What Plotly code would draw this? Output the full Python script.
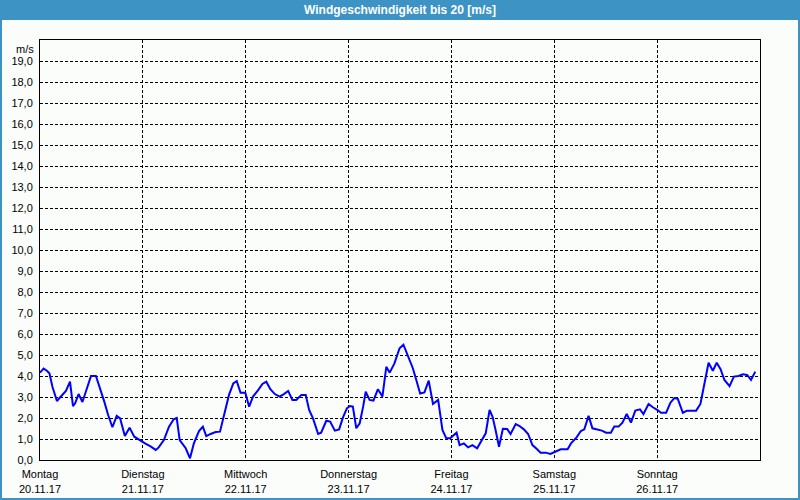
import pandas as pd
import plotly.graph_objects as go

# ---- data ----
start_date = "2017-11-20"
hours = [0, 0.84, 1.6, 2.2, 2.9, 3.95, 4.5, 6.05, 7.0, 7.7, 8.2, 9.0, 9.9, 10.7, 11.9, 13.05,
         14.1, 15.0, 15.9, 16.9, 17.9, 18.7, 19.8, 20.9, 22.0, 23.2,
         24.6, 25.8, 27.0, 27.7, 28.9, 30.1, 31.2, 31.9, 32.6, 34.0, 35.0, 35.9, 37.1, 38.0,
         38.8, 39.8, 41.0, 42.0, 42.9, 44.1, 45.1, 45.9, 46.8, 47.9,
         48.8, 49.7, 50.9, 51.9, 52.8, 53.75, 54.8, 55.9, 56.9, 57.9, 58.9, 59.8, 61.0, 62.0,
         62.8, 63.7, 64.9, 65.6, 66.8, 67.7, 68.8, 69.8, 70.7, 71.6,
         72.3, 73.0, 73.8, 74.6, 75.4, 76.0, 76.9, 77.8, 78.85, 79.9, 80.8, 81.6, 82.7, 83.9,
         84.8, 85.8, 87.0, 87.8, 88.7, 89.7, 90.7, 91.7, 92.9, 93.9, 94.8, 95.7,
         96.4, 97.2, 97.9, 98.9, 99.9, 100.9, 102.0, 103.0, 104.0, 104.9, 105.6, 106.3, 107.1,
         108.0, 109.0, 109.8, 111.0, 111.9, 112.9, 113.9, 114.9, 116.0, 116.8, 118.0, 119.1,
         120.1, 121.5, 123.1, 123.9, 125.2, 126.2, 127.0, 128.0, 128.9, 130.1, 131.1, 132.1,
         133.2, 134.0, 135.0, 135.9, 136.9, 137.9, 138.9, 140.0, 140.8, 142.0, 143.0, 144.1,
         144.9, 146.1, 147.1, 148.0, 148.8, 150.0, 151.0, 152.1, 153.1, 154.1, 155.0, 156.0,
         157.0, 157.9, 158.8, 159.7, 160.9, 161.9, 163.0, 164.0, 165.0, 165.9, 166.9]
speed = [4.16, 4.35, 4.25, 4.13, 3.49, 2.81, 2.94, 3.29, 3.73, 2.57, 2.7, 3.14, 2.76, 3.25, 4.0, 4.0,
         3.37, 2.78, 2.14, 1.56, 2.1, 1.98, 1.14, 1.54, 1.11, 0.95,
         0.78, 0.65, 0.48, 0.6, 0.95, 1.59, 1.94, 2.0, 0.95, 0.56, 0.08, 0.79, 1.38, 1.59,
         1.14, 1.24, 1.33, 1.35, 2.06, 3.1, 3.65, 3.76, 3.2, 3.2,
         2.54, 3.02, 3.33, 3.62, 3.73, 3.37, 3.14, 3.02, 3.14, 3.29, 2.86, 2.86, 3.1, 3.1,
         2.38, 1.98, 1.24, 1.3, 1.87, 1.83, 1.4, 1.46, 2.03, 2.46,
         2.57, 2.54, 1.51, 1.75, 2.54, 3.25, 2.86, 2.83, 3.37, 3.02, 4.44, 4.16, 4.6, 5.32,
         5.49, 5.0, 4.37, 3.81, 3.17, 3.22, 3.78, 2.67, 2.86, 1.43, 1.03, 1.03,
         1.14, 1.3, 0.71, 0.79, 0.6, 0.71, 0.56, 0.95, 1.27, 2.38, 2.06, 1.43, 0.63,
         1.49, 1.48, 1.24, 1.71, 1.62, 1.46, 1.24, 0.71, 0.51, 0.35, 0.35, 0.29,
         0.38, 0.51, 0.51, 0.79, 1.08, 1.38, 1.46, 2.1, 1.51, 1.46, 1.4, 1.3,
         1.3, 1.59, 1.59, 1.78, 2.19, 1.78, 2.35, 2.41, 2.19, 2.67, 2.51, 2.38,
         2.25, 2.25, 2.73, 2.95, 2.92, 2.25, 2.35, 2.35, 2.35, 2.67, 3.57, 4.63,
         4.25, 4.63, 4.32, 3.81, 3.52, 3.97, 4.0, 4.08, 4.05, 3.81, 4.21]
day_names = ["Montag", "Dienstag", "Mittwoch", "Donnerstag", "Freitag", "Samstag", "Sonntag"]
day_dates = ["20.11.17", "21.11.17", "22.11.17", "23.11.17", "24.11.17", "25.11.17", "26.11.17"]
y_ticks = list(range(0, 20))
title_text = "Windgeschwindigkeit bis 20 [m/s]"
unit_text = "m/s"

base = pd.Timestamp(start_date)
times = [base + pd.Timedelta(hours=h) for h in hours]
day_ticks = [base + pd.Timedelta(days=i) for i in range(len(day_names))]
day_labels = [f"{n}<br>{d}" for n, d in zip(day_names, day_dates)]

BLUE_BAR = "#3d93c4"
FONT = "Liberation Sans"

fig = go.Figure()
fig.add_trace(go.Scatter(x=times, y=speed, mode="lines",
                         line=dict(color="#0000ff", width=2), hoverinfo="skip"))

fig.update_layout(
    width=800, height=500,
    margin=dict(l=40, r=40, t=40, b=40, autoexpand=False),
    paper_bgcolor="#fbfdfb", plot_bgcolor="#fbfdfb",
    showlegend=False,
    separators=",.",
    font=dict(family=FONT, size=11, color="#000000"),
    xaxis=dict(
        range=[base, base + pd.Timedelta(days=7)],
        tickmode="array", tickvals=day_ticks, ticktext=day_labels,
        showgrid=True, gridcolor="#000000", gridwidth=1, griddash="3px,2px",
        showline=True, linecolor="#000000", linewidth=1, mirror=True,
        ticks="", zeroline=False, ticklabelstandoff=4, automargin=False,
        tickfont=dict(family=FONT, size=11, color="#000000"),
    ),
    yaxis=dict(
        range=[0, 20],
        tickmode="array", tickvals=y_ticks, tickformat=".1f",
        showgrid=True, gridcolor="#000000", gridwidth=1, griddash="3px,2px",
        showline=True, linecolor="#000000", linewidth=1, mirror=True,
        ticks="", zeroline=False, ticklabelstandoff=4, automargin=False,
        tickfont=dict(family=FONT, size=11, color="#000000"),
    ),
    shapes=[
        # title bar
        dict(type="rect", xref="paper", yref="paper",
             x0=-40/720, x1=1+40/720, y0=1+20/420, y1=1+40/420,
             fillcolor=BLUE_BAR, line=dict(width=0), layer="above"),
        # outer frame
        dict(type="rect", xref="paper", yref="paper",
             x0=-40/720 + 1/720, x1=1+40/720 - 1/720, y0=-40/420 + 1/420, y1=1+40/420,
             fillcolor="rgba(0,0,0,0)", line=dict(color=BLUE_BAR, width=2), layer="above"),
    ],
    annotations=[
        dict(text=f"<b>{title_text}</b>", xref="paper", yref="paper",
             x=0.5, y=1+30/420, xanchor="center", yanchor="middle", showarrow=False,
             font=dict(family=FONT, size=12, color="#ffffff")),
        dict(text=unit_text, xref="paper", yref="paper",
             x=-4/720, y=1 - 1/420, xanchor="right", yanchor="top", showarrow=False,
             font=dict(family=FONT, size=11, color="#000000")),
    ],
)

fig.write_html("out.html")
